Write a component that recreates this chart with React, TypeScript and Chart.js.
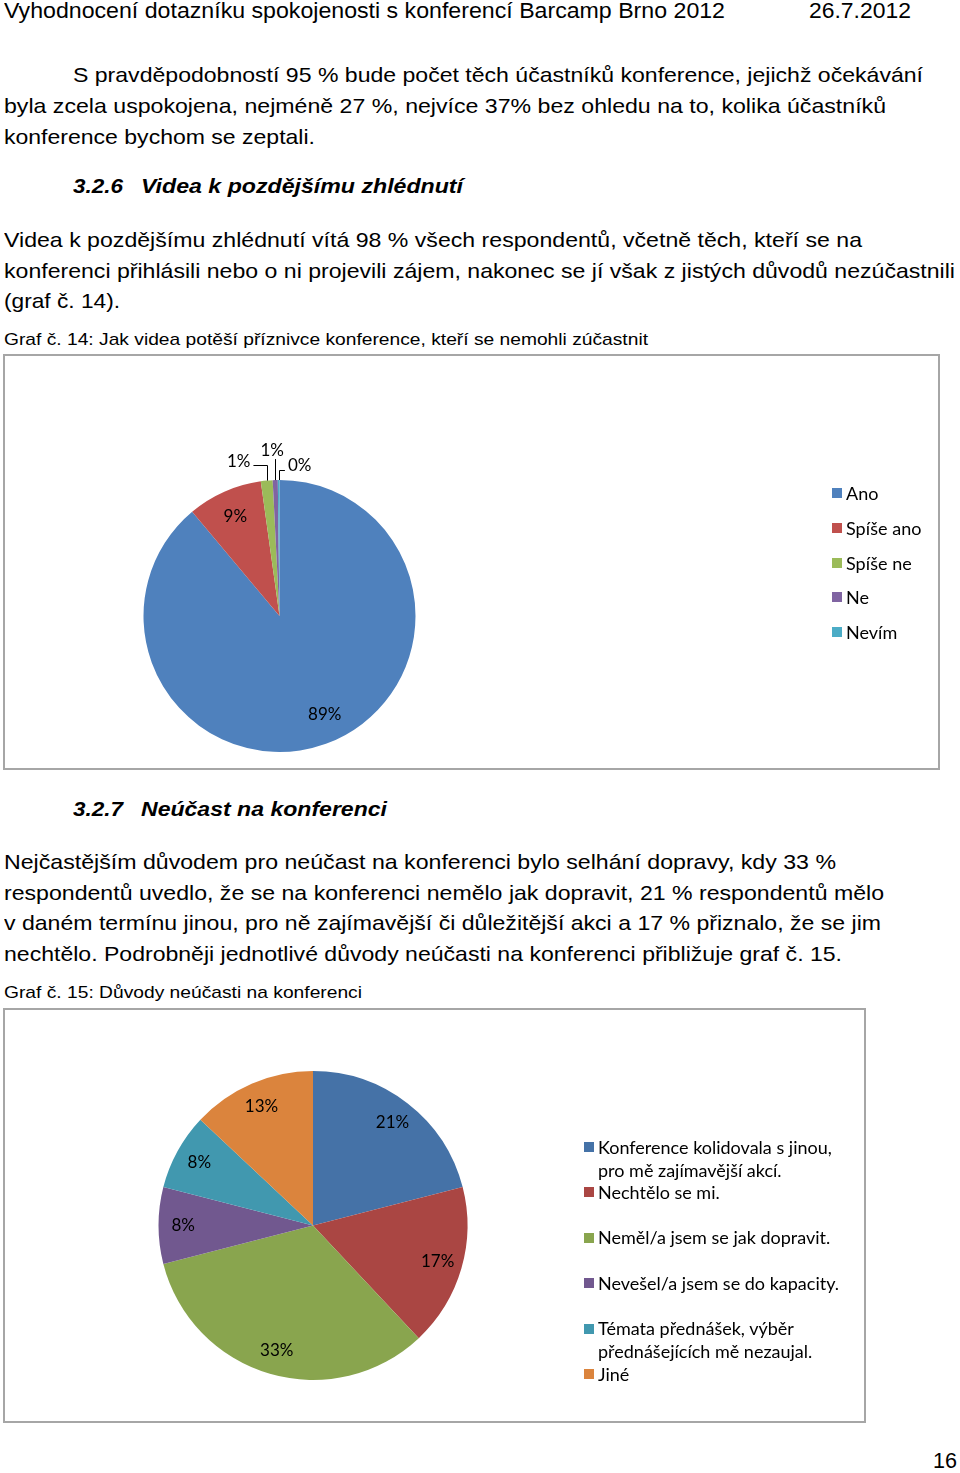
import React, { useEffect, useLayoutEffect, useRef } from "react";
import { Chart, registerables } from "chart.js";

Chart.register(...registerables);

// ---- Data: chart 14 ----
const videoCategories = ["Ano", "Spíše ano", "Spíše ne", "Ne", "Nevím"];
const videoValues = [88.9, 8.9, 1.4, 0.6, 0.2];
const videoColors = ["#4F81BD", "#C0504D", "#9BBB59", "#8064A2", "#4BACC6"];

// ---- Data: chart 15 ----
const absenceCategories = [
  "Konference kolidovala s jinou,\npro mě zajímavější akcí.",
  "Nechtělo se mi.",
  "Neměl/a jsem se jak dopravit.",
  "Nevešel/a jsem se do kapacity.",
  "Témata přednášek, výběr\npřednášejících mě nezaujal.",
  "Jiné",
];
const absenceValues = [21, 17, 33, 8, 8, 13];
const absenceColors = ["#4572A7", "#AA4643", "#89A54E", "#71588F", "#4198AF", "#DB843D"];

// ---- Page text ----
const BODY = '"Liberation Sans", Arial, sans-serif';
const CHARTFONT = 'Lato, "Open Sans", sans-serif';
type LineDef = { x: number; y: number; w: number; size: number; text: string; bold?: boolean; italic?: boolean };
const textLines: LineDef[] = [
  { x: 4, y: 12, w: 721, size: 22, text: "Vyhodnocení dotazníku spokojenosti s konferencí Barcamp Brno 2012" },
  { x: 809, y: 12, w: 102, size: 22, text: "26.7.2012" },
  { x: 73, y: 75, w: 850, size: 21, text: "S pravděpodobností 95 % bude počet těch účastníků konference, jejichž očekávání" },
  { x: 4, y: 106, w: 882, size: 21, text: "byla zcela uspokojena, nejméně 27 %, nejvíce 37% bez ohledu na to, kolika účastníků" },
  { x: 4, y: 137, w: 311, size: 21, text: "konference bychom se zeptali." },
  { x: 73, y: 186, w: 50, size: 21, text: "3.2.6", bold: true, italic: true },
  { x: 141, y: 186, w: 322, size: 21, text: "Videa k pozdějšímu zhlédnutí", bold: true, italic: true },
  { x: 4, y: 240, w: 858, size: 21, text: "Videa k pozdějšímu zhlédnutí vítá 98 % všech respondentů, včetně těch, kteří se na" },
  { x: 4, y: 271, w: 951, size: 21, text: "konferenci přihlásili nebo o ni projevili zájem, nakonec se jí však z jistých důvodů nezúčastnili" },
  { x: 4, y: 301, w: 116, size: 21, text: "(graf č. 14)." },
  { x: 4, y: 341, w: 644, size: 17, text: "Graf č. 14: Jak videa potěší příznivce konference, kteří se nemohli zúčastnit" },
  { x: 73, y: 809, w: 50, size: 21, text: "3.2.7", bold: true, italic: true },
  { x: 141, y: 809, w: 246, size: 21, text: "Neúčast na konferenci", bold: true, italic: true },
  { x: 4, y: 862, w: 832, size: 21, text: "Nejčastějším důvodem pro neúčast na konferenci bylo selhání dopravy, kdy 33 %" },
  { x: 4, y: 893, w: 880, size: 21, text: "respondentů uvedlo, že se na konferenci nemělo jak dopravit, 21 % respondentů mělo" },
  { x: 4, y: 923, w: 877, size: 21, text: "v daném termínu jinou, pro ně zajímavější či důležitější akci a 17 % přiznalo, že se jim" },
  { x: 4, y: 954, w: 838, size: 21, text: "nechtělo. Podrobněji jednotlivé důvody neúčasti na konferenci přibližuje graf č. 15." },
  { x: 4, y: 994, w: 358, size: 17, text: "Graf č. 15: Důvody neúčasti na konferenci" },
  { x: 933, y: 1462, w: 24, size: 22, text: "16" },
];

function FitLine({ d }: { d: LineDef }) {
  const ref = useRef<HTMLDivElement>(null);
  useLayoutEffect(() => {
    const el = ref.current;
    if (!el) return;
    el.style.transform = "none";
    const nat = el.getBoundingClientRect().width;
    if (nat > 0) el.style.transform = `scaleX(${d.w / nat})`;
  }, [d]);
  return (
    <div
      ref={ref}
      style={{
        position: "absolute",
        left: d.x,
        top: d.y - d.size * 0.64,
        fontFamily: BODY,
        fontSize: d.size,
        lineHeight: `${Math.round(d.size * 1.2)}px`,
        fontWeight: d.bold ? 700 : 400,
        fontStyle: d.italic ? "italic" : "normal",
        whiteSpace: "nowrap",
        transformOrigin: "0 0",
        color: "#000",
      }}
    >
      {d.text}
    </div>
  );
}

const pieLabelPlugin = {
  id: "pieLabels",
  afterDatasetsDraw(chart: any, _args: any, opts: any) {
    const ctx = chart.ctx;
    const meta = chart.getDatasetMeta(0);
    const data = chart.data.datasets[0].data as number[];
    ctx.save();
    ctx.font = opts.font;
    ctx.fillStyle = opts.color;
    ctx.strokeStyle = opts.color;
    ctx.lineWidth = 1;
    ctx.textAlign = "center";
    ctx.textBaseline = "middle";
    meta.data.forEach((arc: any, i: number) => {
      const p = arc.getProps(["x", "y", "startAngle", "endAngle", "outerRadius"], true);
      const mid = (p.startAngle + p.endAngle) / 2;
      const text = Math.round(data[i]) + "%";
      const out = opts.outside ? opts.outside[i] : null;
      if (out) {
        const ox = p.x + Math.cos(mid) * p.outerRadius;
        const oy = p.y + Math.sin(mid) * p.outerRadius;
        const lx = ox + out.dx;
        const ly = oy + out.dy;
        const w = ctx.measureText(text).width;
        ctx.beginPath();
        ctx.moveTo(Math.round(ox) + 0.5, oy);
        if (out.side === "left") {
          ctx.lineTo(Math.round(ox) + 0.5, Math.round(ly + 3) + 0.5);
          ctx.lineTo(lx + w / 2 + 3, Math.round(ly + 3) + 0.5);
        } else if (out.side === "right") {
          ctx.lineTo(Math.round(ox) + 0.5, Math.round(ly + 4) + 0.5);
          ctx.lineTo(lx - w / 2 - 3, Math.round(ly + 4) + 0.5);
        } else {
          ctx.lineTo(Math.round(ox) + 0.5, ly + 9);
        }
        ctx.stroke();
        ctx.fillText(text, lx, ly);
      } else {
        const f = opts.factor;
        const sh = opts.shift ? opts.shift[i] || 0 : 0;
        const a = mid + sh;
        ctx.fillText(text, p.x + Math.cos(a) * p.outerRadius * f, p.y + Math.sin(a) * p.outerRadius * f);
      }
    });
    ctx.restore();
  },
};

function PieChart(props: {
  labels: string[];
  values: number[];
  colors: string[];
  width: number;
  height: number;
  padding: { left: number; right: number; top: number; bottom: number };
  factor: number;
  outside?: any;
  shift?: any;
}) {
  const ref = useRef<HTMLCanvasElement>(null);
  useEffect(() => {
    if (!ref.current) return;
    const chart = new Chart(ref.current, {
      type: "pie",
      data: {
        labels: props.labels,
        datasets: [
          {
            data: props.values,
            backgroundColor: props.colors,
            borderWidth: 0,
          },
        ],
      },
      options: {
        responsive: false,
        animation: false,
        layout: { padding: props.padding },
        plugins: {
          legend: { display: false },
          tooltip: { enabled: false },
          // @ts-ignore
          pieLabels: {
            font: `17px ${CHARTFONT}`,
            color: "#000",
            factor: props.factor,
            outside: props.outside,
            shift: props.shift,
          },
        },
      },
      plugins: [pieLabelPlugin as any],
    });
    return () => chart.destroy();
  }, []);
  return <canvas ref={ref} width={props.width} height={props.height} style={{ display: "block" }} />;
}

function Legend(props: { labels: string[]; colors: string[]; x: number; y: number; pitch: number; lineH: number; textGap: number }) {
  return (
    <>
      {props.labels.map((l, i) => (
        <div
          key={i}
          style={{
            position: "absolute",
            left: props.x,
            top: props.y + i * props.pitch - props.lineH / 2,
            fontFamily: CHARTFONT,
            fontSize: 18,
            lineHeight: `${props.lineH}px`,
            whiteSpace: "pre",
            color: "#000",
          }}
        >
          <span
            style={{
              position: "absolute",
              left: 0,
              top: props.lineH / 2 - 5,
              width: 10,
              height: 10,
              background: props.colors[i],
            }}
          />
          <div style={{ marginLeft: props.textGap }}>{l}</div>
        </div>
      ))}
    </>
  );
}

export default function App() {
  useEffect(() => {
    document.body.style.margin = "0";
  }, []);
  return (
    <div style={{ position: "absolute", left: 0, top: 0, width: 960, height: 1473, overflow: "hidden", background: "#fff" }}>
      {textLines.map((d, i) => (
        <FitLine key={i} d={d} />
      ))}

      {/* Chart 14 */}
      <div
        style={{
          position: "absolute",
          left: 3,
          top: 354,
          width: 937 - 4,
          height: 416 - 4,
          border: "2px solid #a6a6a6",
        }}
      >
        <PieChart
          labels={videoCategories}
          values={videoValues}
          colors={videoColors}
          width={933}
          height={412}
          padding={{ left: 138, right: 522, top: 124, bottom: 16 }}
          factor={0.8}
          shift={{ 0: -0.08 }}
          outside={{
            2: { dx: -28, dy: -19, side: "left" },
            3: { dx: -3, dy: -30, side: "none" },
            4: { dx: 21, dy: -14, side: "right" },
          }}
        />
      </div>
      <Legend labels={videoCategories} colors={videoColors} x={832} y={493} pitch={34.75} lineH={22} textGap={14} />

      {/* Chart 15 */}
      <div
        style={{
          position: "absolute",
          left: 3,
          top: 1008,
          width: 863 - 4,
          height: 415 - 4,
          border: "2px solid #a6a6a6",
        }}
      >
        <PieChart
          labels={absenceCategories}
          values={absenceValues}
          colors={absenceColors}
          width={859}
          height={411}
          padding={{ left: 153, right: 396, top: 61, bottom: 41 }}
          factor={0.84}
        />
      </div>
      <Legend labels={absenceCategories} colors={absenceColors} x={584} y={1147} pitch={45.4} lineH={23} textGap={14} />
    </div>
  );
}
